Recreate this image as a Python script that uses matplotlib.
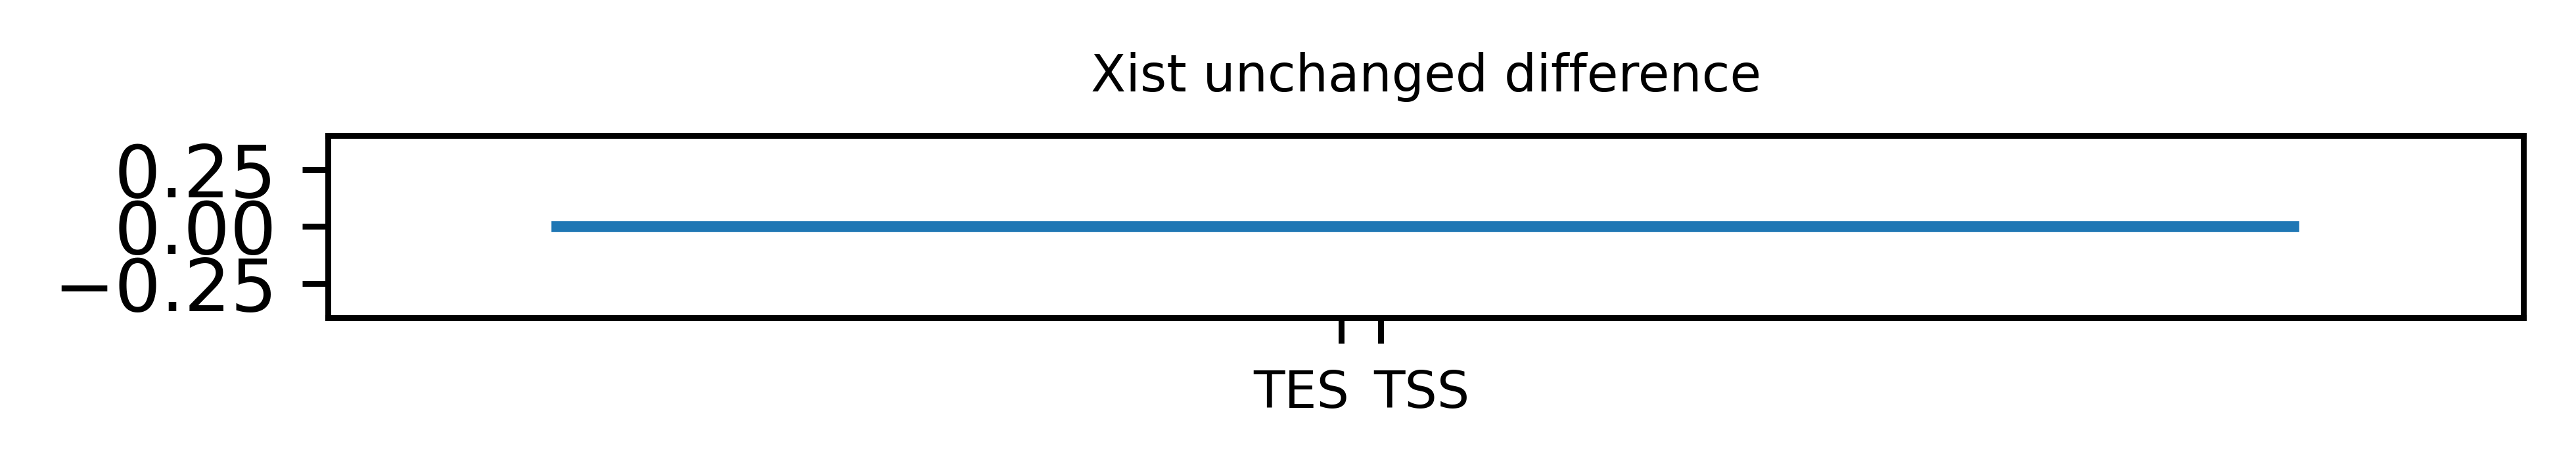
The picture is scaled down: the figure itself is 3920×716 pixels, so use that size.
import matplotlib
matplotlib.use('Agg')
import matplotlib.pyplot as plt
from matplotlib.transforms import ScaledTranslation

# flat difference track along the Xist locus (relative positions)
positions = [0, 1000]
difference = [0.0, 0.0]
tick_pos = [451.8, 474.3]
tick_labels = ['TES', 'TSS']

fig = plt.figure(figsize=(4.9, 0.895), dpi=800)
ax = fig.add_axes([0.1274, 0.3261, 0.8523, 0.3862])
ax.plot(positions, difference)
ax.set_xlim(-131.5, 1132.6)
ax.set_ylim(-0.4, 0.4)
ax.set_yticks([-0.25, 0.0, 0.25])
ax.set_xticks(tick_pos)
labels = ax.set_xticklabels(tick_labels, fontsize=7)
labels[0].set_ha('right')
labels[1].set_ha('left')
labels[0].set_transform(labels[0].get_transform() + ScaledTranslation(0.015, 0, fig.dpi_scale_trans))
labels[1].set_transform(labels[1].get_transform() + ScaledTranslation(-0.013, 0, fig.dpi_scale_trans))
ax.set_title('Xist unchanged difference', fontsize=7)
fig.savefig('out.png', dpi=800)
plt.close(fig)
